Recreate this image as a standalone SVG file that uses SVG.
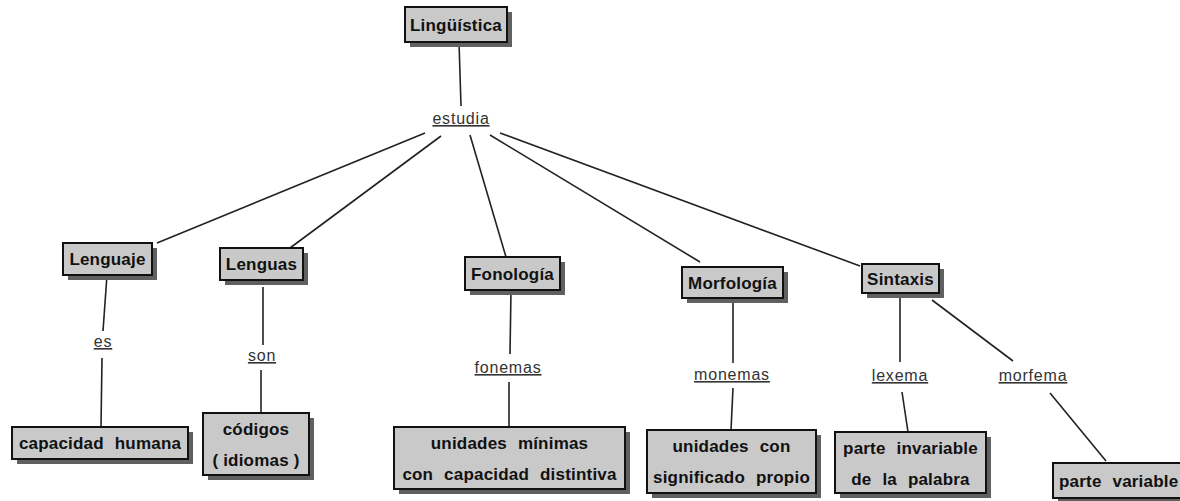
<svg xmlns="http://www.w3.org/2000/svg" width="1180" height="501" viewBox="0 0 1180 501">
<style>
.sh{fill:#606060}
.bx{fill:#c9c9c9;stroke:#111;stroke-width:2}
.t{font-family:"Liberation Sans",Arial,sans-serif;font-weight:bold;font-size:17px;fill:#111;text-anchor:middle;letter-spacing:0.2px;word-spacing:6px}
.l{font-family:"Liberation Sans",Arial,sans-serif;font-size:16px;fill:#333;text-anchor:middle;text-decoration:underline;letter-spacing:0.8px}
.c{stroke:#222;stroke-width:1.6;fill:none}
</style>
<rect width="1180" height="501" fill="#fff"/>
<g id="connectors">
<line class="c" x1="459" y1="42" x2="461" y2="106"/>
<line class="c" x1="425" y1="133" x2="157" y2="243"/>
<line class="c" x1="441" y1="136" x2="290" y2="248"/>
<line class="c" x1="470" y1="135" x2="506" y2="257"/>
<line class="c" x1="490" y1="135" x2="700" y2="262"/>
<line class="c" x1="500" y1="133" x2="860" y2="266"/>
<line class="c" x1="107" y1="275" x2="103" y2="331"/>
<line class="c" x1="102" y1="358" x2="101" y2="427"/>
<line class="c" x1="263" y1="287" x2="263" y2="345"/>
<line class="c" x1="261" y1="370" x2="261" y2="413"/>
<line class="c" x1="511" y1="290" x2="510" y2="354"/>
<line class="c" x1="509" y1="382" x2="509" y2="427"/>
<line class="c" x1="733" y1="298" x2="733" y2="363"/>
<line class="c" x1="733" y1="388" x2="731" y2="430"/>
<line class="c" x1="900" y1="298" x2="900" y2="362"/>
<line class="c" x1="902" y1="392" x2="908" y2="432"/>
<line class="c" x1="932" y1="300" x2="1013" y2="361"/>
<line class="c" x1="1050" y1="393" x2="1106" y2="461"/>
</g>
<g id="linguistica"><rect class="sh" x="410" y="12" width="102" height="35"/><rect class="bx" x="405" y="7" width="102" height="35"/><text class="t" x="456" y="31">Lingüística</text></g>
<g id="lbl-estudia"><text class="l" x="461" y="124">estudia</text></g>
<g id="lenguaje"><rect class="sh" x="68" y="248" width="89" height="32"/><rect class="bx" x="63" y="243" width="89" height="32"/><text class="t" x="107.5" y="265">Lenguaje</text></g>
<g id="lenguas"><rect class="sh" x="225" y="253" width="83" height="32"/><rect class="bx" x="220" y="248" width="83" height="32"/><text class="t" x="261.5" y="270">Lenguas</text></g>
<g id="fonologia"><rect class="sh" x="470" y="262" width="95" height="33"/><rect class="bx" x="465" y="257" width="95" height="33"/><text class="t" x="512.5" y="280">Fonología</text></g>
<g id="morfologia"><rect class="sh" x="687" y="272" width="101" height="31"/><rect class="bx" x="682" y="267" width="101" height="31"/><text class="t" x="732.5" y="289">Morfología</text></g>
<g id="sintaxis"><rect class="sh" x="867" y="269" width="77" height="29"/><rect class="bx" x="862" y="264" width="77" height="29"/><text class="t" x="900.5" y="285">Sintaxis</text></g>
<g id="lbl-es"><text class="l" x="103" y="347">es</text></g>
<g id="lbl-son"><text class="l" x="262" y="361">son</text></g>
<g id="lbl-fonemas"><text class="l" x="508" y="373">fonemas</text></g>
<g id="lbl-monemas"><text class="l" x="732" y="380">monemas</text></g>
<g id="lbl-lexema"><text class="l" x="900" y="381">lexema</text></g>
<g id="lbl-morfema"><text class="l" x="1033" y="381">morfema</text></g>
<g id="capacidad"><rect class="sh" x="17" y="432" width="176" height="32"/><rect class="bx" x="12" y="427" width="176" height="32"/><text class="t" x="100" y="449">capacidad humana</text></g>
<g id="codigos"><rect class="sh" x="208" y="418" width="106" height="62"/><rect class="bx" x="203" y="413" width="106" height="62"/><text class="t" x="256" y="435">códigos</text><text class="t" x="256" y="466" style="word-spacing:0">( idiomas )</text></g>
<g id="unidades-minimas"><rect class="sh" x="399" y="432" width="231" height="62"/><rect class="bx" x="394" y="427" width="231" height="62"/><text class="t" x="509.5" y="449">unidades mínimas</text><text class="t" x="509.5" y="480">con capacidad distintiva</text></g>
<g id="unidades-con"><rect class="sh" x="652" y="435" width="169" height="63"/><rect class="bx" x="647" y="430" width="169" height="63"/><text class="t" x="731.5" y="452">unidades con</text><text class="t" x="731.5" y="483">significado propio</text></g>
<g id="parte-invariable"><rect class="sh" x="840" y="437" width="151" height="61"/><rect class="bx" x="835" y="432" width="151" height="61"/><text class="t" x="910.5" y="454">parte invariable</text><text class="t" x="910.5" y="485">de la palabra</text></g>
<g id="parte-variable"><rect class="sh" x="1058" y="468" width="140" height="35"/><rect class="bx" x="1053" y="463" width="140" height="35"/><text class="t" x="1059" y="487" style="text-anchor:start">parte variable</text></g>
</svg>
